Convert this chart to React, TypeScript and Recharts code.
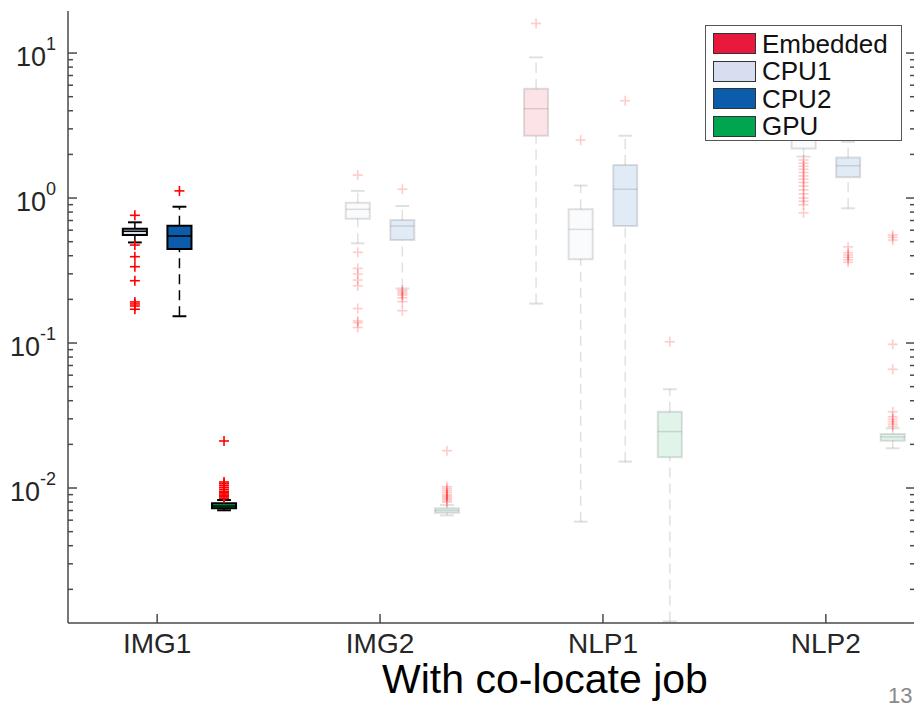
import React from 'react';
import { ComposedChart, XAxis, YAxis, Scatter, ReferenceArea, ReferenceLine, Legend } from 'recharts';

const categories = ['IMG1', 'IMG2', 'NLP1', 'NLP2'];
const seriesNames = ['Embedded', 'CPU1', 'CPU2', 'GPU'];

// box statistics, one entry per category (null = no box)
const embeddedLow = [null, null, 0.187, null];
const embeddedQ1 = [null, null, 2.69, null];
const embeddedMedian = [null, null, 4.13, null];
const embeddedQ3 = [null, null, 5.67, null];
const embeddedHigh = [null, null, 9.33, null];
const embeddedOutliers = [[], [], [16.0], []];

const cpu1Low = [0.494, 0.487, 0.00586, 1.93];
const cpu1Q1 = [0.556, 0.719, 0.378, 2.2];
const cpu1Median = [0.59, 0.836, 0.608, 2.6];
const cpu1Q3 = [0.614, 0.928, 0.836, 3.0];
const cpu1High = [0.68, 1.12, 1.22, 3.6];
const cpu1Outliers = [
  [0.76, 0.474, 0.394, 0.336, 0.269, 0.192, 0.186, 0.18, 0.171],
  [1.44, 0.422, 0.327, 0.299, 0.272, 0.248, 0.173, 0.142, 0.138, 0.128],
  [2.51],
  [1.83, 1.74, 1.66, 1.58, 1.5, 1.42, 1.35, 1.28, 1.21, 1.14, 1.07, 1.0, 0.95, 0.9, 0.79],
];

const cpu2Low = [0.153, 0.238, 0.0152, 0.849];
const cpu2Q1 = [0.445, 0.513, 0.641, 1.39];
const cpu2Median = [0.547, 0.641, 1.15, 1.67];
const cpu2Q3 = [0.644, 0.705, 1.69, 1.9];
const cpu2High = [0.871, 0.881, 2.69, 2.44];
const cpu2Outliers = [
  [1.12],
  [1.15, 0.232, 0.226, 0.22, 0.214, 0.205, 0.193, 0.167],
  [4.69],
  [0.461, 0.42, 0.405, 0.39, 0.375, 0.36],
];

const gpuLow = [0.00702, 0.00648, 0.0012, 0.0188];
const gpuQ1 = [0.00724, 0.00676, 0.0163, 0.0212];
const gpuMedian = [0.00751, 0.007, 0.0245, 0.0225];
const gpuQ3 = [0.00784, 0.00724, 0.0336, 0.0236];
const gpuHigh = [0.00826, 0.00763, 0.048, 0.0258];
const gpuOutliers = [
  [0.0211, 0.011, 0.0107, 0.0104, 0.0101, 0.0098, 0.0095, 0.0093, 0.0091, 0.0089, 0.0087, 0.0085],
  [0.0181, 0.0102, 0.0099, 0.0096, 0.0093, 0.009, 0.0088, 0.0086, 0.0084, 0.0082, 0.008],
  [0.102],
  [0.556, 0.536, 0.513, 0.098, 0.0659, 0.0336, 0.031, 0.0298, 0.0287, 0.0276, 0.0266],
];

const yMajorTicks = [0.01, 0.1, 1, 10];

const lows = [embeddedLow, cpu1Low, cpu2Low, gpuLow];
const q1s = [embeddedQ1, cpu1Q1, cpu2Q1, gpuQ1];
const medians = [embeddedMedian, cpu1Median, cpu2Median, gpuMedian];
const q3s = [embeddedQ3, cpu1Q3, cpu2Q3, gpuQ3];
const highs = [embeddedHigh, cpu1High, cpu2High, gpuHigh];
const outliers = [embeddedOutliers, cpu1Outliers, cpu2Outliers, gpuOutliers];

const colors = ['#E8193C', '#D9DDF0', '#0B5CAB', '#00A54F'];
const offsets = [-0.3, -0.1, 0.1, 0.3];
const FADE = 0.12;
const groupOpacity = [1, FADE, FADE, FADE];
const BOX_HALF = 0.054;
const CAP_HALF = 0.031;
const Y_MIN = 0.001172;
const Y_MAX = 19.5;
const FONT = '"Liberation Sans", Arial, Helvetica, sans-serif';
const AXIS = '#4a4a4a';

const yTicks: number[] = [];
for (let e = -3; e <= 1; e++) {
  for (let m = 1; m <= 9; m++) {
    const v = m * Math.pow(10, e);
    if (v >= Y_MIN && v <= Y_MAX) yTicks.push(v);
  }
}
const isMajor = (v: number) => yMajorTicks.some((t) => Math.abs(t - v) / t < 1e-6);

const LeftTick = (props: any) => {
  const { x, y, payload } = props;
  const v = payload.value;
  const major = isMajor(v);
  const exp = Math.round(Math.log10(v));
  return (
    <g>
      <line x1={x} x2={x + (major ? 9 : 5)} y1={y} y2={y} stroke={AXIS} strokeWidth={1.5} />
      {major && (
        <text x={x - 12} y={y + 13} textAnchor="end" fontSize={27} fill="#262626" fontFamily={FONT}>
          10<tspan dy={-16} fontSize={18}>{exp}</tspan>
        </text>
      )}
    </g>
  );
};

const RightTick = (props: any) => {
  const { x, y, payload } = props;
  const major = isMajor(payload.value);
  return <line x1={x} x2={x - (major ? 9 : 5)} y1={y} y2={y} stroke={AXIS} strokeWidth={1.5} />;
};

const BottomTick = (props: any) => {
  const { x, y, payload } = props;
  return (
    <g>
      <line x1={x} x2={x} y1={y} y2={y - 9} stroke={AXIS} strokeWidth={1.5} />
      <text x={x} y={y + 30} textAnchor="middle" fontSize={28} fill="#262626" fontFamily={FONT}>
        {categories[payload.value - 1]}
      </text>
    </g>
  );
};

const TopTick = (props: any) => {
  const { x, y } = props;
  return <line x1={x} x2={x} y1={y} y2={y + 9} stroke={AXIS} strokeWidth={1.5} />;
};

const Plus = (props: any) => {
  const { cx, cy, op } = props;
  if (cx == null || cy == null) return null;
  return (
    <g opacity={op}>
      <line x1={cx - 5} x2={cx + 5} y1={cy} y2={cy} stroke="#FF0000" strokeWidth={1.6} />
      <line x1={cx} x2={cx} y1={cy - 5} y2={cy + 5} stroke="#FF0000" strokeWidth={1.6} />
    </g>
  );
};

const LegendBox = () => (
  <div
    style={{
      width: 197,
      height: 116,
      boxSizing: 'border-box',
      border: '1.5px solid #555',
      background: '#fff',
      paddingTop: 4,
      paddingLeft: 7,
      fontFamily: FONT,
    }}
  >
    {seriesNames.map((name, i) => (
      <div key={name} style={{ display: 'flex', alignItems: 'center', height: 27.5 }}>
        <div style={{ width: 43, height: 21, boxSizing: 'border-box', background: colors[i], border: '1.5px solid #333' }} />
        <span style={{ marginLeft: 6, fontSize: 26, lineHeight: 1, color: '#111' }}>{name}</span>
      </div>
    ))}
  </div>
);

const boxElements: React.ReactNode[] = [];
const fullPoints: { x: number; y: number }[] = [];
const fadedPoints: { x: number; y: number }[] = [];

seriesNames.forEach((name, si) => {
  categories.forEach((cat, ci) => {
    outliers[si][ci].forEach((v) => (ci === 0 ? fullPoints : fadedPoints).push({ x: ci + 1 + offsets[si], y: v }));
    const q1 = q1s[si][ci];
    if (q1 == null) return;
    const x = ci + 1 + offsets[si];
    const op = groupOpacity[ci];
    const lo = lows[si][ci] as number;
    const hi = highs[si][ci] as number;
    const q3 = q3s[si][ci] as number;
    const med = medians[si][ci] as number;
    const k = `${name}-${cat}`;
    const lineProps = { stroke: '#000', strokeOpacity: op, ifOverflow: 'hidden' as const };
    boxElements.push(
      <ReferenceLine key={`${k}-lw`} segment={[{ x, y: lo }, { x, y: q1 }]} strokeWidth={1.5} strokeDasharray="10 6" {...lineProps} />,
      <ReferenceLine key={`${k}-uw`} segment={[{ x, y: q3 }, { x, y: hi }]} strokeWidth={1.5} strokeDasharray="10 6" {...lineProps} />,
      <ReferenceLine key={`${k}-lc`} segment={[{ x: x - CAP_HALF, y: lo }, { x: x + CAP_HALF, y: lo }]} strokeWidth={2} {...lineProps} />,
      <ReferenceLine key={`${k}-uc`} segment={[{ x: x - CAP_HALF, y: hi }, { x: x + CAP_HALF, y: hi }]} strokeWidth={2} {...lineProps} />,
      <ReferenceArea
        key={`${k}-box`}
        x1={x - BOX_HALF}
        x2={x + BOX_HALF}
        y1={q1}
        y2={q3}
        fill={colors[si]}
        fillOpacity={op}
        stroke="#000"
        strokeOpacity={op}
        strokeWidth={2}
        ifOverflow="hidden"
      />,
      <ReferenceLine key={`${k}-med`} segment={[{ x: x - BOX_HALF, y: med }, { x: x + BOX_HALF, y: med }]} strokeWidth={1.5} {...lineProps} />
    );
  });
});

export default function App() {
  return (
    <div style={{ position: 'absolute', left: 0, top: 0, width: 914, height: 710, overflow: 'hidden', background: '#fff' }}>
      <ComposedChart width={940} height={710} margin={{ top: 11, right: 0, bottom: 0, left: 0 }} style={{ fontFamily: FONT }}>
        <XAxis
          xAxisId={0}
          dataKey="x"
          type="number"
          domain={[0.6, 4.4]}
          ticks={[1, 2, 3, 4]}
          allowDataOverflow
          height={87}
          tickSize={0}
          tickMargin={0}
          tickLine={false}
          tick={<BottomTick />}
          axisLine={{ stroke: AXIS, strokeWidth: 1.5 }}
          interval={0}
        />
        <XAxis
          xAxisId="top"
          orientation="top"
          type="number"
          domain={[0.6, 4.4]}
          ticks={[1, 2, 3, 4]}
          allowDataOverflow
          height={0}
          tickSize={0}
          tickMargin={0}
          tickLine={false}
          tick={<TopTick />}
          axisLine={{ stroke: AXIS, strokeWidth: 1.5 }}
          interval={0}
        />
        <YAxis
          yAxisId={0}
          dataKey="y"
          type="number"
          scale="log"
          domain={[Y_MIN, Y_MAX]}
          ticks={yTicks}
          allowDataOverflow
          width={68}
          tickSize={0}
          tickMargin={0}
          tickLine={false}
          tick={<LeftTick />}
          axisLine={{ stroke: AXIS, strokeWidth: 1.5 }}
          interval={0}
        />
        <YAxis
          yAxisId="right"
          orientation="right"
          type="number"
          scale="log"
          domain={[Y_MIN, Y_MAX]}
          ticks={yTicks}
          allowDataOverflow
          width={25}
          tickSize={0}
          tickMargin={0}
          tickLine={false}
          tick={<RightTick />}
          axisLine={{ stroke: AXIS, strokeWidth: 1.5 }}
          interval={0}
        />
        {boxElements}
        <Scatter
          name="outliers"
          data={fullPoints}
          isAnimationActive={false}
          shape={(p: any) => <Plus {...p} op={1} />}
        />
        <Scatter
          name="outliers-faded"
          data={fadedPoints}
          isAnimationActive={false}
          shape={(p: any) => <Plus {...p} op={0.2} />}
        />
        <Legend
          layout="vertical"
          align="center"
          verticalAlign="middle"
          content={<LegendBox />}
          wrapperStyle={{ left: 705, top: 25, width: 197, height: 116 }}
        />
      </ComposedChart>
      <div
        style={{
          position: 'absolute',
          left: 0,
          width: 1090,
          top: 661,
          textAlign: 'center',
          fontFamily: FONT,
          fontSize: 41,
          lineHeight: '36px',
          color: '#000',
        }}
      >
        With co-locate job
      </div>
      <div style={{ position: 'absolute', left: 888, top: 684, fontFamily: FONT, fontSize: 22, lineHeight: '24px', color: '#8a8a8a', whiteSpace: 'nowrap' }}>13</div>
    </div>
  );
}
